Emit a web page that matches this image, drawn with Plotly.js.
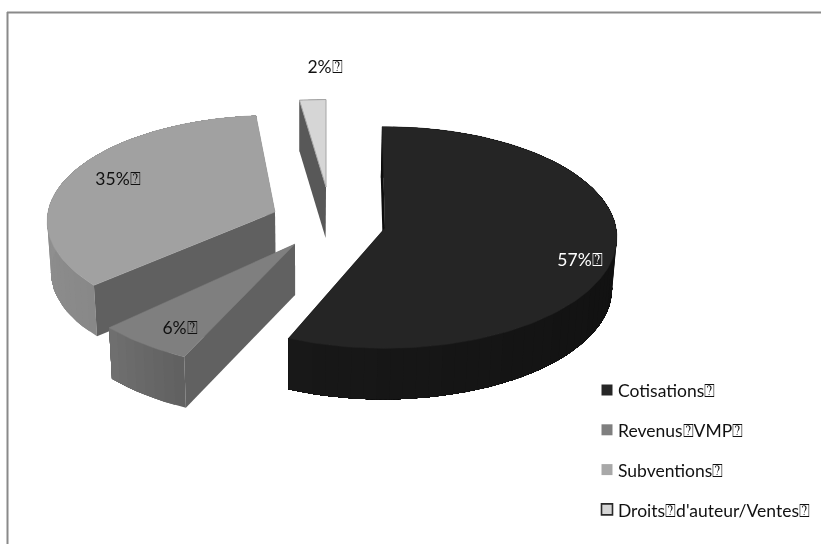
<!DOCTYPE html>
<html>
<head>
<meta charset="utf-8">
<script src="https://cdn.plot.ly/plotly-3.0.1.min.js"></script>
<style>html,body{margin:0;padding:0;background:#fff}#chart{width:821px;height:544px;filter:blur(0.45px)}</style>
</head>
<body>
<div id="chart"></div>
<script>
var TOFU = "\u2370";
var categories = ["Cotisations", "Revenus VMP", "Subventions", "Droits d'auteur/Ventes"];
var shares = [57, 6, 35, 2];
var legendLabels = ["Cotisations" + TOFU, "Revenus" + TOFU + "VMP" + TOFU, "Subventions" + TOFU, "Droits" + TOFU + "d'auteur/Ventes" + TOFU];
var topColors = ["#252525", "#7f7f7f", "#a1a1a1", "#d6d6d6"];
var swatchColors = ["#262626", "#7f7f7f", "#a8a8a8", "#d6d6d6"];
var cutColors = ["#0c0c0c", "#616161", "#606060", "#585858"];
var rimStart = [[10, 10, 10], [96, 96, 96], [136, 136, 136], [120, 120, 120]];
var rimEnd = [[24, 24, 24], [112, 112, 112], [156, 156, 156], [120, 120, 120]];

// Projection of each exploded wedge on the page
var geometry = [
  {ax: 385, ay: 228, rx: 231, ry: 110, da0: -0.8, da1: -2.6},
  {ax: 295, ay: 244, rx: 240, ry: 115, da0: 0, da1: 0},
  {ax: 275, ay: 212, rx: 227, ry: 105, da0: 2, da1: 2},
  {ax: 326, ay: 187, rx: 230, ry: 95, da0: 0, da1: 0}
];
var labelPos = [[580, 262, "#ffffff"], [180, 330, "#111111"], [118, 181, "#111111"], [325, 69, "#111111"]];
var legendPos = {x: 607, y0: 390, step: 39.8, textX: 618, textDy: 3};
var DEPTH = 51, PERSP = 11.6, LEAN = 0.015, STEP = 3;
var paintOrder = [2, 1, 3, 0];

function proj(g, deg) {
  var a = deg * Math.PI / 180, X = Math.sin(a), Y = Math.cos(a), f = PERSP / (PERSP + Y);
  return [g.ax + g.rx * X * f, g.ay - g.ry * Y * f];
}
function low(p) { return [p[0] - (p[0] - 300) * LEAN, p[1] + DEPTH]; }
function poly(points, color, lineColor, lineWidth) {
  var xs = points.map(function (p) { return p[0]; });
  var ys = points.map(function (p) { return p[1]; });
  xs.push(xs[0]); ys.push(ys[0]);
  return {
    type: "scatter", mode: "lines", x: xs, y: ys, fill: "toself", fillcolor: color,
    line: {color: lineColor || color, width: lineWidth === undefined ? 0 : lineWidth},
    hoverinfo: "skip", showlegend: false
  };
}

var cum = 0, spans = shares.map(function (s, i) {
  var g = geometry[i], a0 = cum / 100 * 360 + g.da0;
  cum += s;
  return [a0, cum / 100 * 360 + g.da1];
});

var traces = [];
paintOrder.forEach(function (i) {
  var g = geometry[i], a0 = spans[i][0], a1 = spans[i][1];
  var apex = [g.ax, g.ay], p0 = proj(g, a0), p1 = proj(g, a1);
  traces.push(poly([apex, p1, low(p1), low(apex)], cutColors[i]));
  // rim, shaded from one end to the other; every band runs on to the end so no seams show
  var n = Math.max(1, Math.ceil((a1 - a0) / STEP));
  for (var k = 0; k < n; k++) {
    var t = (k + 0.5) / n, c = rimEnd[i].map(function (v, j) {
      return Math.round(rimStart[i][j] + (v - rimStart[i][j]) * t);
    });
    var band = [], m;
    for (m = k; m <= n; m++) band.push(proj(g, a0 + (a1 - a0) * m / n));
    for (m = n; m >= k; m--) band.push(low(proj(g, a0 + (a1 - a0) * m / n)));
    traces.push(poly(band, "rgb(" + c.join(",") + ")"));
  }
  traces.push(poly([apex, p0, low(p0), low(apex)], cutColors[i]));
  var top = [apex];
  for (var k2 = 0; k2 <= n * 2; k2++) top.push(proj(g, a0 + (a1 - a0) * k2 / (n * 2)));
  traces.push(poly(top, topColors[i], i === 3 ? "#a6a6a6" : topColors[i], i === 3 ? 1 : 0.5));
});

// Slice labels
traces.push({
  type: "scatter", mode: "text",
  x: labelPos.map(function (p) { return p[0]; }),
  y: labelPos.map(function (p) { return p[1]; }),
  text: shares.map(function (s) { return s + "%" + TOFU; }),
  textposition: "middle center",
  textfont: {family: "Lato, 'DejaVu Sans', sans-serif", size: 17.5, color: labelPos.map(function (p) { return p[2]; })},
  hoverinfo: "skip", showlegend: false
});

// Key
traces.push({
  type: "scatter", mode: "markers",
  x: categories.map(function () { return legendPos.x; }),
  y: categories.map(function (c, i) { return legendPos.y0 + i * legendPos.step; }),
  marker: {symbol: "square", size: 11, color: swatchColors,
    line: {color: ["#262626", "#7f7f7f", "#a8a8a8", "#2a2a2a"], width: [0, 0, 0, 1.6]}},
  text: categories, hoverinfo: "text", showlegend: false
});
traces.push({
  type: "scatter", mode: "text",
  x: categories.map(function () { return legendPos.textX; }),
  y: categories.map(function (c, i) { return legendPos.y0 + legendPos.textDy + i * legendPos.step; }),
  text: legendLabels, textposition: "middle right",
  textfont: {family: "Lato, 'DejaVu Sans', sans-serif", size: 17.5, color: "#111111"},
  hoverinfo: "skip", showlegend: false
});

var layout = {
  width: 821, height: 544,
  margin: {l: 0, r: 0, t: 0, b: 0},
  paper_bgcolor: "#ffffff", plot_bgcolor: "#ffffff",
  showlegend: false,
  xaxis: {range: [0, 821], visible: false, fixedrange: true},
  yaxis: {range: [544, 0], visible: false, fixedrange: true},
  shapes: [
    {type: "line", xref: "x", yref: "y", x0: 7.5, x1: 7.5, y0: 12, y1: 544, line: {color: "#8a8a8a", width: 2}},
    {type: "line", xref: "x", yref: "y", x0: 7, x1: 821, y0: 12.5, y1: 12.5, line: {color: "#8a8a8a", width: 2}}
  ]
};
Plotly.newPlot("chart", traces, layout, {displayModeBar: false, staticPlot: true});
</script>
</body>
</html>
